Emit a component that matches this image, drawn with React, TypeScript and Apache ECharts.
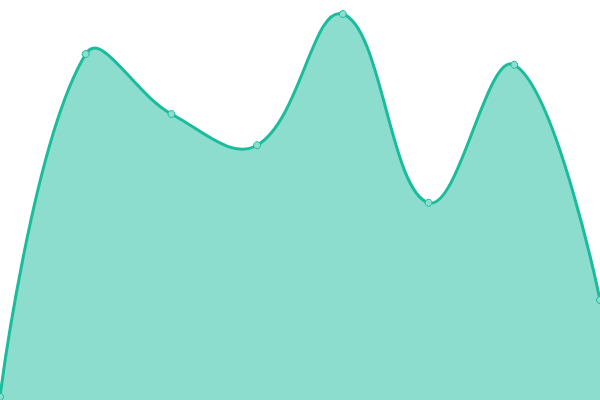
import * as echarts from "echarts";
import { useEffect, useRef } from "react";

const categories = ["1", "2", "3", "4", "5", "6", "7", "8"];
const values = [0.8, 86.5, 71.5, 63.7, 96.5, 49.3, 83.8, 25];

const SMOOTH = 0.4;

// old-style bezier smoothing (control points from neighbours, weighted by distance)
const controlPoints = (pts: number[][], smooth: number) => {
  const cps: number[][] = [];
  for (let i = 0; i < pts.length; i++) {
    const p = pts[i];
    if (i === 0 || i === pts.length - 1) {
      cps.push([p[0], p[1]]);
      continue;
    }
    const prev = pts[i - 1];
    const next = pts[i + 1];
    const vx = (next[0] - prev[0]) * smooth;
    const vy = (next[1] - prev[1]) * smooth;
    const d0 = Math.hypot(p[0] - prev[0], p[1] - prev[1]);
    const d1 = Math.hypot(p[0] - next[0], p[1] - next[1]);
    const sum = d0 + d1 || 1;
    cps.push([p[0] - (vx * d0) / sum, p[1] - (vy * d0) / sum]);
    cps.push([p[0] + (vx * d1) / sum, p[1] + (vy * d1) / sum]);
  }
  return cps;
};

const SmoothCurve = echarts.graphic.extendShape({
  shape: { points: [] as number[][], baseY: 0, area: false },
  buildPath(ctx: any, shape: any) {
    const pts: number[][] = shape.points;
    if (!pts || pts.length < 2) return;
    const cps = controlPoints(pts, SMOOTH);
    ctx.moveTo(pts[0][0], pts[0][1]);
    for (let i = 0; i < pts.length - 1; i++) {
      const c0 = cps[2 * i];
      const c1 = cps[2 * i + 1];
      const p = pts[i + 1];
      ctx.bezierCurveTo(c0[0], c0[1], c1[0], c1[1], p[0], p[1]);
    }
    if (shape.area) {
      ctx.lineTo(pts[pts.length - 1][0], shape.baseY);
      ctx.lineTo(pts[0][0], shape.baseY);
      ctx.closePath();
    }
  },
});
echarts.graphic.registerShape("smoothCurve", SmoothCurve);

const App = () => {
  const chartRef = useRef<HTMLDivElement>(null);

  useEffect(() => {
    if (!chartRef.current) return;

    const chart = echarts.init(chartRef.current, null, { renderer: "svg" });

    const option: echarts.EChartsOption = {
      animation: false,
      grid: { left: 0, right: 0, top: 0, bottom: 0 },
      xAxis: {
        type: "category",
        data: categories,
        boundaryGap: false,
        show: false,
      },
      yAxis: {
        type: "value",
        min: 0,
        max: 100,
        show: false,
      },
      series: [
        {
          type: "custom",
          z: 1,
          data: values.map((v, i) => [i, v]),
          renderItem: (params: any, api: any) => {
            if (params.dataIndex !== 0) return null;
            const points = values.map((v, i) => api.coord([i, v]));
            const baseY = api.coord([0, 0])[1];
            return {
              type: "group",
              children: [
                {
                  type: "smoothCurve",
                  shape: { points, baseY, area: true },
                  style: { fill: "rgba(26,188,156,0.5)", stroke: "none" },
                },
                {
                  type: "smoothCurve",
                  shape: { points, baseY, area: false },
                  style: { fill: "none", stroke: "#1abc9c", lineWidth: 3 },
                },
              ],
            };
          },
        } as any,
        {
          type: "line",
          z: 3,
          data: values,
          symbol: "circle",
          symbolSize: 7,
          itemStyle: {
            color: "#8cdece",
            borderColor: "#1abc9c",
            borderWidth: 1,
          },
          lineStyle: { opacity: 0 },
        },
      ],
    };

    chart.setOption(option);

    return () => {
      chart.dispose();
    };
  }, []);

  return (
    <div
      ref={chartRef}
      style={{ position: "absolute", left: 0, top: 0, width: "600px", height: "400px" }}
    />
  );
};

export default App;
